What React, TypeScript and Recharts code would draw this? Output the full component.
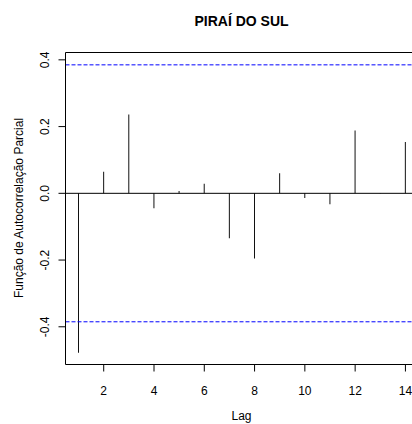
import React from "react";
import { ComposedChart, Bar, XAxis, YAxis, ReferenceLine } from "recharts";

const title = "PIRAÍ DO SUL";
const xLabel = "Lag";
const yLabel = "Função de Autocorrelação Parcial";

const lags = [1, 2, 3, 4, 5, 6, 7, 8, 9, 10, 11, 12, 13, 14];
const pacfValues = [-0.478, 0.065, 0.236, -0.045, 0.007, 0.029, -0.135, -0.195, 0.06, -0.014, -0.033, 0.188, 0.001, 0.154];
const confLimit = 0.385;

const xTicks = [2, 4, 6, 8, 10, 12, 14];
const yTicks = [-0.4, -0.2, 0, 0.2, 0.4];
const xDomain = [0.48, 14.52];
const yDomain = [-0.513, 0.422];

const data = lags.map((lag, i) => ({ lag, pacf: pacfValues[i] }));

const FONT = "'Liberation Sans', Arial, Helvetica, sans-serif";

const XTick = (props: any) => {
  const { x, payload } = props;
  return (
    <text x={x} y={394.5} textAnchor="middle" fontSize={12} fontFamily={FONT} fill="#000">
      {String(payload.value)}
    </text>
  );
};

const YTick = (props: any) => {
  const { y, payload } = props;
  const tx = 49.5;
  return (
    <text
      x={tx}
      y={y}
      transform={`rotate(-90, ${tx}, ${y})`}
      textAnchor="middle"
      fontSize={12}
      fontFamily={FONT}
      fill="#000"
    >
      {Number(payload.value).toFixed(1)}
    </text>
  );
};

const XLabelContent = () => (
  <g>
    <text x={241.5} y={420} textAnchor="middle" fontSize={12} fontFamily={FONT} fill="#000">
      {xLabel}
    </text>
    <text x={241.5} y={26} textAnchor="middle" fontSize={14} fontWeight="bold" fontFamily={FONT} fill="#000">
      {title}
    </text>
  </g>
);

const YLabelContent = () => {
  const tx = 22.5;
  const ty = 208;
  return (
    <text
      x={tx}
      y={ty}
      transform={`rotate(-90, ${tx}, ${ty})`}
      textAnchor="middle"
      fontSize={12}
      fontFamily={FONT}
      fill="#000"
    >
      {yLabel}
    </text>
  );
};

export default function App() {
  return (
    <div
      style={{
        position: "fixed",
        left: 0,
        top: 0,
        width: 412,
        height: 424,
        overflow: "hidden",
        background: "#fff",
      }}
    >
      <ComposedChart
        width={430}
        height={424}
        data={data}
        margin={{ top: 52.5, right: 11.5, bottom: 0, left: 0.5 }}
      >
        <XAxis
          dataKey="lag"
          type="number"
          domain={xDomain}
          ticks={xTicks}
          allowDataOverflow
          height={59.5}
          tickSize={7}
          axisLine={{ stroke: "#000", strokeWidth: 1 }}
          tickLine={{ stroke: "#000", strokeWidth: 1 }}
          tick={<XTick />}
          label={XLabelContent}
        />
        <YAxis
          type="number"
          domain={yDomain}
          ticks={yTicks}
          allowDataOverflow
          width={65}
          tickSize={7}
          axisLine={{ stroke: "#000", strokeWidth: 1 }}
          tickLine={{ stroke: "#000", strokeWidth: 1 }}
          tick={<YTick />}
          label={YLabelContent}
        />
        <ReferenceLine y={yDomain[1]} stroke="#000" strokeWidth={1} ifOverflow="visible" />
        <ReferenceLine y={0} stroke="#000" strokeWidth={1} />
        <ReferenceLine y={confLimit} stroke="#0000ff" strokeWidth={1} strokeDasharray="4 2" />
        <ReferenceLine y={-confLimit} stroke="#0000ff" strokeWidth={1} strokeDasharray="4 2" />
        <Bar dataKey="pacf" barSize={1} fill="#111" isAnimationActive={false} />
      </ComposedChart>
    </div>
  );
}
